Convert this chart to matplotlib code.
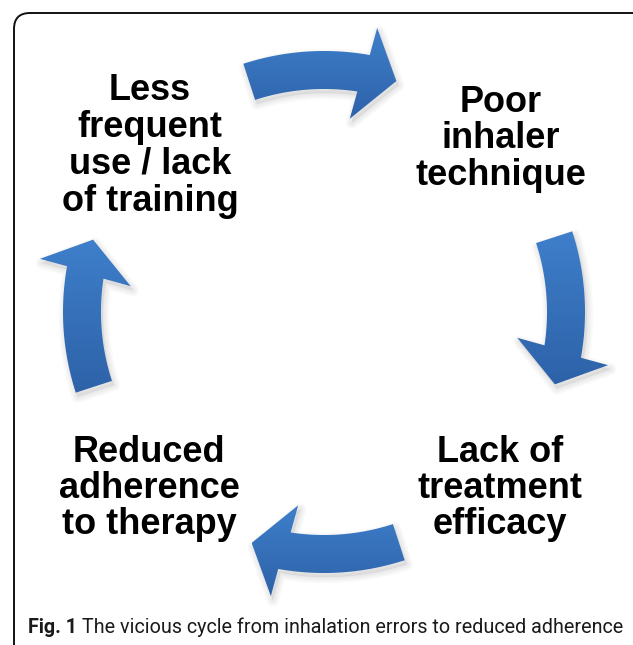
import numpy as np
import matplotlib
matplotlib.use('Agg')
import matplotlib.pyplot as plt
from matplotlib.patches import Polygon, FancyBboxPatch
from matplotlib.colors import LinearSegmentedColormap

# cycle labels, clockwise from top-left
labels = [
    ['Less', 'frequent', 'use / lack', 'of training'],
    ['Poor', 'inhaler', 'technique'],
    ['Lack of', 'treatment', 'efficacy'],
    ['Reduced', 'adherence', 'to therapy'],
]
caption_bold = 'Fig. 1'
caption_text = ' The vicious cycle from inhalation errors to reduced adherence'

# direction (deg) of each curved arrow around the cycle centre
arrow_axes = [90, 0, -90, 180]

W, H = 633, 645
fig = plt.figure(figsize=(W / 100, H / 100), dpi=100)
ax = fig.add_axes([0, 0, 1, 1])
ax.set_xlim(0, W)
ax.set_ylim(H, 0)
ax.axis('off')

# frame with rounded corners, runs off the right and bottom edge
frame = FancyBboxPatch((14, 13), 640, 660, boxstyle='round,pad=0,rounding_size=16',
                       fill=False, ec='#111111', lw=1.4)
ax.add_patch(frame)

cx, cy, R, hw, hh = 324, 312, 242, 19, 47


def pt(r, deg):
    t = np.deg2rad(deg)
    return cx + r * np.cos(t), cy - r * np.sin(t)


def arrow_poly(a):
    pts = [pt(R + hw, d) for d in np.linspace(a + 18, a - 10.1, 50)]
    pts.append(pt(R + hh, a - 10.6))
    pts.append(pt(R, a - 17.4))
    pts.append(pt(R - hh, a - 7.6))
    pts += [pt(R - hw, d) for d in np.linspace(a - 8.6, a + 18, 50)]
    return np.array(pts)


grad = LinearSegmentedColormap.from_list('blu', ['#3f7fcb', '#2d62a8'])

for a in arrow_axes:
    p = arrow_poly(a)
    # soft shadow, mostly below
    for k in range(5):
        ax.add_patch(Polygon(p + [2, 4], closed=True, fc='none', ec='#000000',
                             lw=1 + 2 * k, alpha=0.018, joinstyle='round'))
    ax.add_patch(Polygon(p + [2, 4], closed=True, fc='#000000', ec='none', alpha=0.06))
    body = Polygon(p, closed=True, fc='none', ec='none')
    ax.add_patch(body)
    x0, y0 = p.min(axis=0)
    x1, y1 = p.max(axis=0)
    g = np.linspace(0, 1, 256).reshape(-1, 1)
    im = ax.imshow(g, cmap=grad, extent=(x0, x1, y1, y0), aspect='auto',
                   interpolation='bilinear', zorder=2)
    im.set_clip_path(body)

# labels
label_x = [150, 501, 500, 149]
label_y0 = [100, 112, 462, 462]
label_step = [37, 36.5, 36, 36]
for lines, x, y0, st in zip(labels, label_x, label_y0, label_step):
    for i, s in enumerate(lines):
        ax.text(x, y0 + i * st, s, ha='center', va='baseline', fontsize=26,
                fontweight='bold', family='Liberation Sans', color='black', zorder=3)

# caption, fitted to the frame width
fig.canvas.draw()
r = fig.canvas.get_renderer()
fs = 13
tb = ax.text(0, 0, caption_bold, fontsize=fs, fontweight='bold', family='Roboto')
tr = ax.text(0, 0, caption_text, fontsize=fs, family='Roboto')
wb = tb.get_window_extent(r).width
wr = tr.get_window_extent(r).width
fs = fs * (622 - 28) / (wb + wr)
tb.set_fontsize(fs)
tr.set_fontsize(fs)
tb.set_position((28, 633))
tb.set_va('baseline')
tb.set_color('#1a1a1a')
fig.canvas.draw()
wb = tb.get_window_extent(r).width
tr.set_position((28 + wb, 633))
tr.set_va('baseline')
tr.set_color('#1a1a1a')

fig.savefig('out.png', dpi=100)
